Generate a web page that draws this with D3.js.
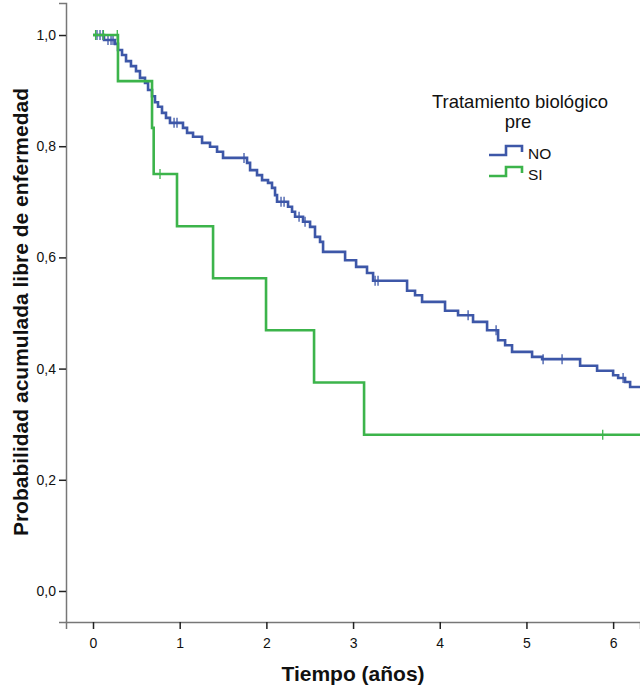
<!DOCTYPE html>
<html><head><meta charset="utf-8">
<script src="https://cdn.jsdelivr.net/npm/d3@7"></script>
<style>
html,body{margin:0;padding:0;background:#fff;}
svg{display:block;font-family:"Liberation Sans",Arial,Helvetica,sans-serif;}
</style></head>
<body>
<svg id="chart" width="640" height="689"></svg>
<script>
// ---- data ----
const groupNames = ["NO", "SI"];
const colors = ["#3d57a8", "#3cb44b"];
const xTicks = [0, 1, 2, 3, 4, 5, 6];
const yTicks = [0, 0.2, 0.4, 0.6, 0.8, 1.0];
const tEnd = 6.31;

const noTimes = [0, 0.127, 0.254, 0.288, 0.335, 0.381, 0.438, 0.496, 0.542, 0.600, 0.635, 0.681, 0.715, 0.750, 0.796, 0.842, 0.888, 1.038, 1.085, 1.154, 1.258, 1.350, 1.431, 1.500, 1.777, 1.812, 1.892, 1.950, 2.019, 2.065, 2.100, 2.123, 2.250, 2.296, 2.331, 2.423, 2.504, 2.561, 2.619, 2.654, 2.908, 3.035, 3.161, 3.231, 3.623, 3.715, 3.796, 4.061, 4.211, 4.384, 4.546, 4.673, 4.754, 4.834, 5.065, 5.181, 5.619, 5.815, 6.000, 6.058, 6.138, 6.196];
const noSurv  = [1, 0.991, 0.984, 0.973, 0.964, 0.953, 0.944, 0.935, 0.923, 0.914, 0.901, 0.890, 0.879, 0.871, 0.860, 0.851, 0.842, 0.833, 0.824, 0.817, 0.806, 0.799, 0.790, 0.779, 0.770, 0.757, 0.748, 0.739, 0.734, 0.725, 0.712, 0.700, 0.691, 0.682, 0.673, 0.664, 0.655, 0.637, 0.628, 0.610, 0.595, 0.583, 0.572, 0.558, 0.540, 0.532, 0.520, 0.504, 0.496, 0.484, 0.469, 0.451, 0.442, 0.430, 0.421, 0.417, 0.405, 0.396, 0.388, 0.383, 0.376, 0.367];
const noCensT = [0.046, 0.081, 0.115, 0.173, 0.208, 0.231, 0.935, 0.969, 1.742, 2.169, 2.204, 2.377, 2.446, 3.254, 3.288, 4.327, 4.650, 5.192, 5.411, 6.115];
const noCensS = [1, 1, 1, 0.991, 0.991, 0.991, 0.842, 0.842, 0.779, 0.700, 0.700, 0.673, 0.664, 0.558, 0.558, 0.496, 0.469, 0.417, 0.417, 0.383];

const siTimes = [0, 0.288, 0.681, 0.700, 0.969, 1.385, 1.996, 2.550, 3.127];
const siSurv  = [1, 0.917, 0.833, 0.750, 0.656, 0.5625, 0.469, 0.375, 0.281];
const siCensT = [0.03, 0.12, 0.28, 0.773, 5.88];
const siCensS = [1, 1, 1, 0.75, 0.281];

// ---- drawing ----
const svg = d3.select("#chart");
const x = d3.scaleLinear().domain([-0.3115, tEnd]).range([66, 640]);
const y = d3.scaleLinear().domain([-0.0558, 1.0576]).range([622, 3]);
const fmt = d => d3.format(".1f")(d).replace(".", ",");

// axes
const gy = svg.append("g").attr("transform", "translate(66,0)")
  .call(d3.axisLeft(y).tickValues(yTicks).tickFormat(fmt).tickSize(7).tickPadding(3));
const gx = svg.append("g").attr("transform", "translate(0,622)")
  .call(d3.axisBottom(x).tickValues(xTicks).tickFormat(d3.format("d")).tickSize(7).tickPadding(9));
[gx, gy].forEach(g => {
  g.select(".domain").attr("stroke", "#777").attr("stroke-width", 1.5);
  g.selectAll(".tick line").attr("stroke", "#222").attr("stroke-width", 1.5);
  g.selectAll(".tick text").attr("fill", "#111").attr("font-size", 14)
    .style("font-family", "'Liberation Sans',Arial,sans-serif");
});

// curves
const line = d3.line().x(d => x(d[0])).y(d => y(d[1])).curve(d3.curveStepAfter);
const groups = [
  {times: noTimes, surv: noSurv, ct: noCensT, cs: noCensS},
  {times: siTimes, surv: siSurv, ct: siCensT, cs: siCensS}
];
groups.forEach((g, i) => {
  const pts = g.times.map((t, k) => [t, g.surv[k]]);
  pts.push([tEnd, g.surv[g.surv.length - 1]]);
  svg.append("path").datum(pts).attr("d", line)
    .attr("fill", "none").attr("stroke", colors[i]).attr("stroke-width", 2.6);
  svg.append("g").selectAll("line").data(g.ct.map((t, k) => [t, g.cs[k]])).join("line")
    .attr("x1", d => x(d[0])).attr("x2", d => x(d[0]))
    .attr("y1", d => y(d[1]) - 5).attr("y2", d => y(d[1]) + 5)
    .attr("stroke", colors[i]).attr("stroke-width", 1.3);
});

// axis titles
svg.append("text").attr("x", 353).attr("y", 681).attr("text-anchor", "middle")
  .attr("font-size", 21).attr("font-weight", "bold").attr("fill", "#111").text("Tiempo (años)");
svg.append("text").attr("transform", "translate(28,312) rotate(-90)").attr("text-anchor", "middle")
  .attr("font-size", 21).attr("font-weight", "bold").attr("fill", "#111")
  .text("Probabilidad acumulada libre de enfermedad");

// legend
svg.append("text").attr("x", 520).attr("y", 108).attr("text-anchor", "middle")
  .attr("font-size", 18.5).attr("fill", "#111").text("Tratamiento biológico");
svg.append("text").attr("x", 518).attr("y", 128).attr("text-anchor", "middle")
  .attr("font-size", 18.5).attr("fill", "#111").text("pre");
groupNames.forEach((n, i) => {
  const ly = 155 + i * 21;
  svg.append("path")
    .attr("d", `M489,${ly} H506 V${ly - 9} H522 V${ly - 3}`)
    .attr("fill", "none").attr("stroke", colors[i]).attr("stroke-width", 2.6);
  svg.append("text").attr("x", 528).attr("y", ly + 4).attr("font-size", 15.5)
    .attr("fill", "#111").text(n);
});
</script>
</body></html>
